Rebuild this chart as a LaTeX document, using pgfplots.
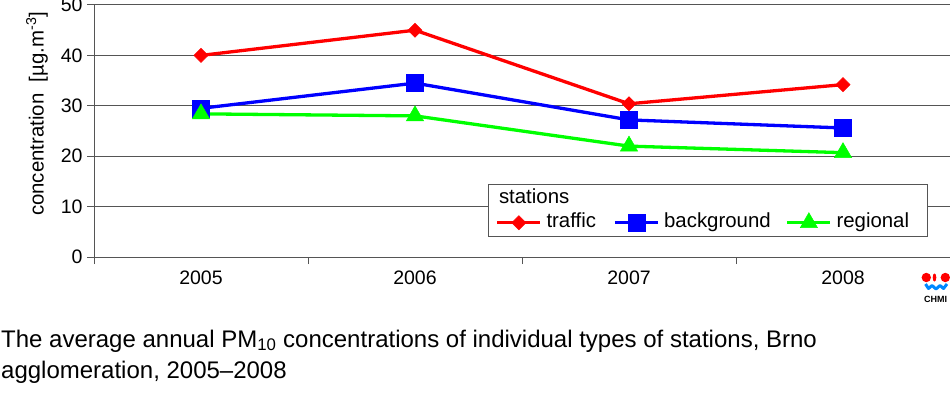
\documentclass[border=0pt]{standalone}
\usepackage{fontspec}
\setmainfont{Liberation Sans}
\usepackage{pgfplots}
\pgfplotsset{compat=1.18}
\definecolor{gridc}{RGB}{85,85,85}
\begin{document}
\begin{tikzpicture}[x=1pt,y=1pt]
\path[use as bounding box] (0,0) rectangle (950,394);
\begin{axis}[
  at={(94pt,137pt)}, anchor=south west,
  scale only axis, width=856pt, height=252pt,
  xmin=-0.5, xmax=3.5, ymin=0, ymax=50,
  xtick={-0.5,0.5,1.5,2.5,3.5}, xticklabels={},
  extra x ticks={0,1,2,3}, extra x tick labels={2005,2006,2007,2008},
  extra x tick style={major tick length=0pt, grid=none,
    xticklabel style={anchor=base, yshift=-27pt}},
  ytick={0,10,20,30,40,50},
  ymajorgrids, major grid style={line width=1pt, color=gridc},
  axis x line*=bottom, axis y line*=left,
  axis line style={line width=1pt, color=gridc},
  tick align=outside, major tick length=7pt,
  tick style={line width=1pt, color=gridc},
  /pgf/number format/assume math mode=true,
  ticklabel style={font=\fontsize{19.5}{22}\selectfont},
  yticklabel style={xshift=-1pt},
  every axis y label/.style={at={(axis description cs:-0.0666,0.568)}, rotate=90, anchor=center},
  ylabel={\fontsize{20.4}{24}\selectfont concentration\ \ [µg.m\textsuperscript{-3}]},
  legend style={at={(axis description cs:0.4603,0.2896)}, anchor=north west,
    draw=gridc, line width=1pt, font=\fontsize{20.4}{24}\selectfont,
    inner xsep=7.2pt, inner ysep=3.8pt, row sep=4.9pt, column sep=4.5pt,
    nodes={inner sep=0pt, text height=15pt, text depth=4.5pt}},
  legend columns=3,
  legend cell align=left,
  legend image code/.code={\draw[mark repeat=2,mark phase=2] plot coordinates {(0pt,0pt) (21.5pt,0pt) (43pt,0pt)};},
]
\addlegendimage{empty legend}\addlegendentry{\hspace*{-47.5pt}stations}
\addlegendimage{empty legend}\addlegendentry{}
\addlegendimage{empty legend}\addlegendentry{}
\addplot[color=red, line width=3.3pt, mark=square*, mark size=5pt, mark options={rotate=45, line width=0.5pt}]
  coordinates {(0,40.0) (1,45.0) (2,30.4) (3,34.2)};
\addlegendentry{traffic\hspace*{12.8pt}}
\addplot[color=blue, line width=3.3pt, mark=square*, mark size=8.5pt, mark options={line width=0.5pt}]
  coordinates {(0,29.5) (1,34.5) (2,27.2) (3,25.6)};
\addlegendentry{background\hspace*{10.5pt}}
\addplot[color=green, line width=3.3pt, mark=triangle*, mark size=10pt, mark options={line width=0.5pt}]
  coordinates {(0,28.4) (1,28.0) (2,22.0) (3,20.7)};
\addlegendentry{regional\hspace*{11pt}}
\end{axis}
% caption
\node[anchor=base west, inner sep=0pt] at (1,47) {\fontsize{24}{28}\selectfont The average annual PM\textsubscript{10} concentrations of individual types of stations, Brno};
\node[anchor=base west, inner sep=0pt] at (1,16) {\fontsize{24}{28}\selectfont agglomeration, 2005–2008};
% logo
\fill[red] (926.3,116.5) circle (4.7);
\fill[red] (945.3,116.5) circle (4.7);
\fill[red] (934.5,116.5) ellipse (1.8 and 4);
\draw[color={rgb,255:red,0;green,136;blue,255}, line width=3pt, line join=round] (925.5,110) -- (928.5,105.5) -- (932,108.5) -- (936,105) -- (940,108.5) -- (943.5,105.5) -- (947,110);
\node[inner sep=0pt] at (935.5,94.5) {\fontsize{9}{10}\selectfont\bfseries CHMI};
\end{tikzpicture}
\end{document}
